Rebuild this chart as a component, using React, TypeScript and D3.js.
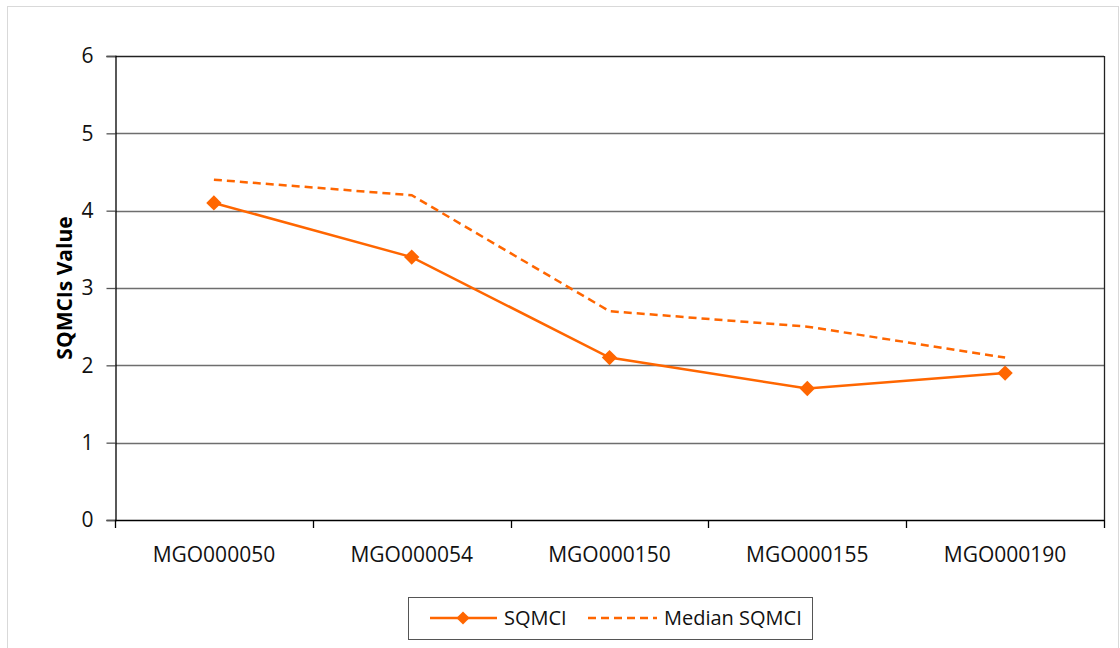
import { useEffect, useRef } from "react";
import * as d3 from "d3";

const categories = ["MGO000050", "MGO000054", "MGO000150", "MGO000155", "MGO000190"];
const sqmciValues = [4.1, 3.4, 2.1, 1.7, 1.9];
const medianValues = [4.4, 4.2, 2.7, 2.5, 2.1];
const yTicks = [0, 1, 2, 3, 4, 5, 6];

const ORANGE = "#ff6600";
const FONT = "'Open Sans', 'Noto Sans', sans-serif";

export default function App() {
    const svgRef = useRef<SVGSVGElement | null>(null);

    useEffect(() => {
        const width = 1120;
        const height = 648;
        const marginLeft = 115;
        const marginRight = 1104;
        const marginTop = 56;
        const marginBottom = 520;

        const svg = d3.select(svgRef.current);
        svg.selectAll("*").remove();

        // outer chart frame
        svg.append("rect")
            .attr("x", 7.5).attr("y", 6.5)
            .attr("width", 1111).attr("height", 660)
            .attr("fill", "#fff").attr("stroke", "#d9d9d9");

        const x = d3.scaleBand<string>()
            .domain(categories)
            .range([marginLeft, marginRight]);

        const y = d3.scaleLinear()
            .domain([0, 6])
            .range([marginBottom, marginTop]);

        // gridlines
        svg.append("g")
            .selectAll("line")
            .data(yTicks.filter(t => t > 0))
            .enter()
            .append("line")
            .attr("x1", marginLeft).attr("x2", marginRight)
            .attr("y1", d => Math.round(y(d)) + 0.5).attr("y2", d => Math.round(y(d)) + 0.5)
            .attr("stroke", d => d === 6 ? "#222" : "#6e6e6e")
            .attr("stroke-width", 1.3);

        // right border of plot
        svg.append("line")
            .attr("x1", marginRight + 0.5).attr("x2", marginRight + 0.5)
            .attr("y1", marginTop).attr("y2", marginBottom)
            .attr("stroke", "#222").attr("stroke-width", 1.3);

        // Y axis
        svg.append("g")
            .attr("transform", `translate(${marginLeft + 0.5},0)`)
            .call(d3.axisLeft(y).tickValues(yTicks).tickSize(9).tickPadding(13).tickFormat(d3.format("d")))
            .call(g => g.select(".domain").attr("stroke", "#000").attr("stroke-width", 1.3))
            .call(g => g.selectAll(".tick line").attr("stroke", "#555").attr("stroke-width", 1.3))
            .call(g => g.selectAll(".tick text")
                .attr("font-family", FONT).attr("font-size", 21).attr("fill", "#111"));

        // X axis
        const boundaries = [...categories.map(c => x(c) as number), marginRight];
        const xg = svg.append("g");
        xg.append("line")
            .attr("x1", marginLeft).attr("x2", marginRight)
            .attr("y1", marginBottom + 0.5).attr("y2", marginBottom + 0.5)
            .attr("stroke", "#000").attr("stroke-width", 1.3);
        xg.selectAll(".xtick")
            .data(boundaries)
            .enter()
            .append("line")
            .attr("x1", d => Math.round(d) + 0.5).attr("x2", d => Math.round(d) + 0.5)
            .attr("y1", marginBottom).attr("y2", marginBottom + 8)
            .attr("stroke", "#000").attr("stroke-width", 1.3);
        xg.selectAll(".xlabel")
            .data(categories)
            .enter()
            .append("text")
            .attr("x", d => (x(d) as number) + x.bandwidth() / 2)
            .attr("y", 562)
            .attr("text-anchor", "middle")
            .attr("font-family", FONT).attr("font-size", 21).attr("fill", "#111")
            .text(d => d);

        // Y axis title
        svg.append("text")
            .attr("transform", `translate(72,${(marginTop + marginBottom) / 2}) rotate(-90)`)
            .attr("text-anchor", "middle")
            .attr("font-family", FONT).attr("font-size", 21).attr("font-weight", "bold").attr("fill", "#000")
            .text("SQMCIs Value");

        const cx = (i: number) => (x(categories[i]) as number) + x.bandwidth() / 2;

        const line = d3.line<number>()
            .x((_, i) => cx(i))
            .y(d => y(d));

        // Median series (dashed)
        svg.append("path")
            .datum(medianValues)
            .attr("d", line)
            .attr("fill", "none")
            .attr("stroke", ORANGE)
            .attr("stroke-width", 2.5)
            .attr("stroke-dasharray", "8,5");

        // SQMCI series
        svg.append("path")
            .datum(sqmciValues)
            .attr("d", line)
            .attr("fill", "none")
            .attr("stroke", ORANGE)
            .attr("stroke-width", 2.5);

        const diamond = d3.symbol().type(d3.symbolDiamond2).size(150);
        svg.selectAll(".marker")
            .data(sqmciValues)
            .enter()
            .append("path")
            .attr("d", diamond)
            .attr("transform", (d, i) => `translate(${cx(i)},${y(d)})`)
            .attr("fill", ORANGE);

        // Legend
        const legend = svg.append("g");
        legend.append("rect")
            .attr("x", 408.5).attr("y", 597.5)
            .attr("width", 404).attr("height", 42)
            .attr("fill", "#fff").attr("stroke", "#555").attr("stroke-width", 1);
        legend.append("line")
            .attr("x1", 430).attr("x2", 497).attr("y1", 618).attr("y2", 618)
            .attr("stroke", ORANGE).attr("stroke-width", 2.5);
        legend.append("path")
            .attr("d", d3.symbol().type(d3.symbolDiamond2).size(110))
            .attr("transform", "translate(463,618)")
            .attr("fill", ORANGE);
        legend.append("text")
            .attr("x", 504).attr("y", 625)
            .attr("font-family", FONT).attr("font-size", 20).attr("fill", "#111")
            .text("SQMCI");
        legend.append("line")
            .attr("x1", 588).attr("x2", 657).attr("y1", 618).attr("y2", 618)
            .attr("stroke", ORANGE).attr("stroke-width", 2.5).attr("stroke-dasharray", "8,5");
        legend.append("text")
            .attr("x", 664).attr("y", 625)
            .attr("font-family", FONT).attr("font-size", 20).attr("fill", "#111")
            .text("Median SQMCI");

        svg.attr("width", width).attr("height", height);
    }, []);

    return (
        <svg ref={svgRef} width={1120} height={648}
            style={{ position: "absolute", left: 0, top: 0, background: "#fff" }} />
    );
}
